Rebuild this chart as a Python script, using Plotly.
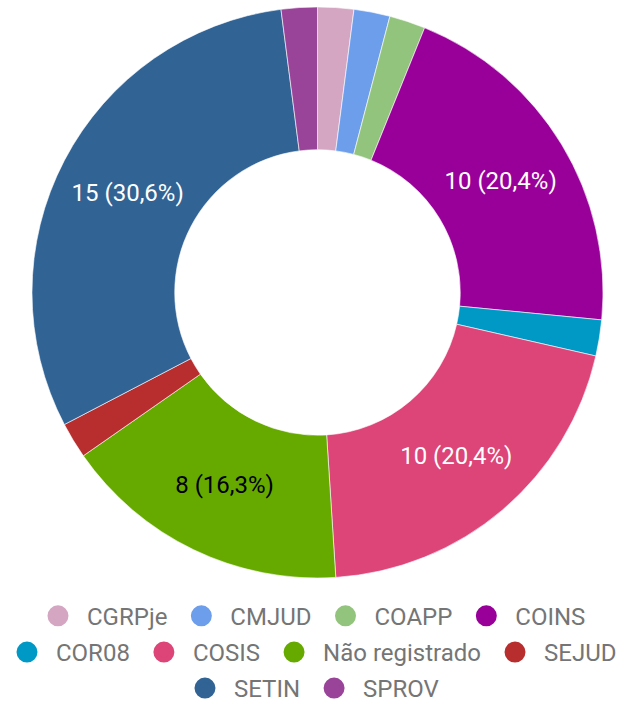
import plotly.graph_objects as go

categories = ["CGRPje", "CMJUD", "COAPP", "COINS", "COR08", "COSIS",
              "Não registrado", "SEJUD", "SETIN", "SPROV"]
values = [1, 1, 1, 10, 1, 10, 8, 1, 15, 1]
colors = ["#d5a6c1", "#6d9eeb", "#93c47d", "#990099", "#0099c6", "#dd4477",
          "#66aa00", "#b82e2e", "#316395", "#994499"]
label_colors = ["white", "white", "white", "white", "white", "white",
                "black", "white", "white", "white"]
legend_rows = [["CGRPje", "CMJUD", "COAPP", "COINS"],
               ["COR08", "COSIS", "Não registrado", "SEJUD"],
               ["SETIN", "SPROV"]]

total = sum(values)
templates = ["%{value} (%{percent:.1%})" if v / total >= 0.05 else "" for v in values]

fig = go.Figure()
fig.add_trace(go.Pie(
    labels=categories, values=values, sort=False, direction="clockwise",
    rotation=0, hole=0.5,
    marker=dict(colors=colors, line=dict(color="white", width=0.6)),
    texttemplate=templates, textposition="inside",
    insidetextorientation="horizontal",
    textfont=dict(color=label_colors, size=24, family="Roboto"),
    showlegend=False, hoverinfo="label+value+percent",
    domain=dict(x=[0, 0.9984], y=[0.1790, 0.9901]),
))

legend_names = ["legend", "legend2", "legend3"]
for row_idx, row in enumerate(legend_rows):
    for name in row:
        i = categories.index(name)
        fig.add_trace(go.Scatter(
            x=[None], y=[None], mode="markers", name=name,
            marker=dict(color=colors[i], size=16, symbol="circle",
                        line=dict(color=colors[i], width=5)),
            legend=legend_names[row_idx], hoverinfo="skip",
        ))

row_y = [65.3 / 704, 29 / 704, -7 / 704]
leg_common = dict(orientation="h", xanchor="center", x=0.4874, yanchor="bottom",
                  itemwidth=48,
                  font=dict(size=24, color="#757575", family="Roboto"),
                  bgcolor="rgba(0,0,0,0)", itemclick=False, itemdoubleclick=False)
fig.update_layout(
    width=636, height=704,
    margin=dict(l=0, r=0, t=0, b=0, autoexpand=False),
    paper_bgcolor="white", plot_bgcolor="white",
    separators=",.",
    font=dict(family="Roboto"),
    xaxis=dict(visible=False), yaxis=dict(visible=False),
    legend=dict(y=row_y[0], **leg_common),
    legend2=dict(y=row_y[1], **leg_common),
    legend3=dict(y=row_y[2], **leg_common),
)

fig.write_html("out.html")
